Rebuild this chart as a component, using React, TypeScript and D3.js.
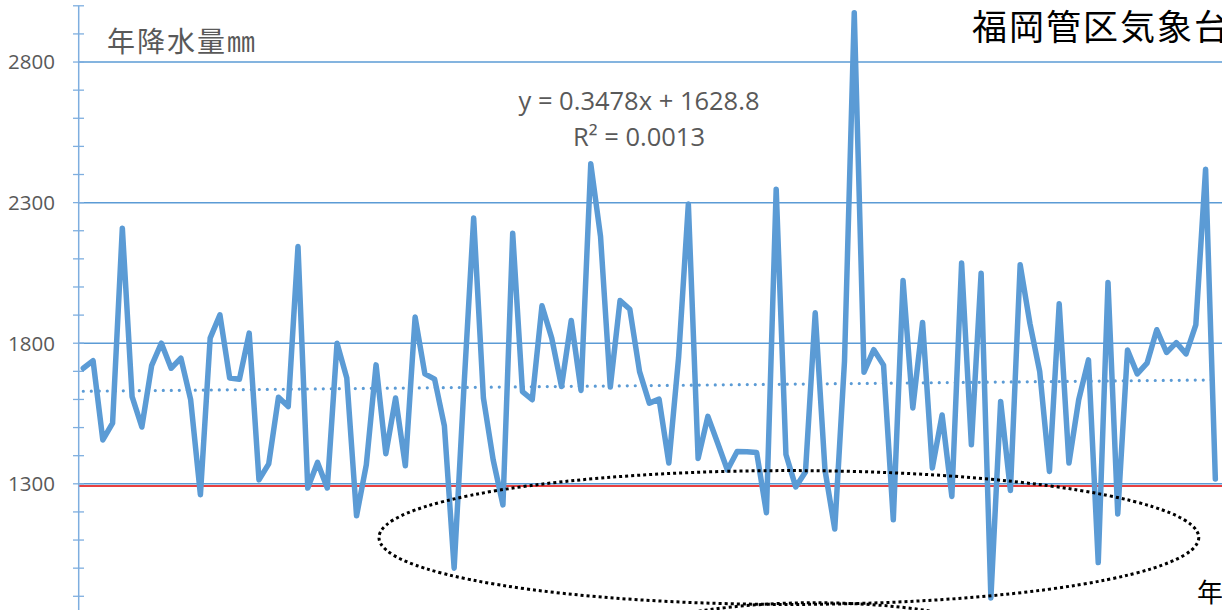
import React from 'react';
import * as d3 from 'd3';

// Annual precipitation at the Fukuoka district observatory (mm), one value per year
const firstYear = 1890;
const rainfall = [
  1711, 1738, 1456, 1516, 2209, 1610, 1502, 1720, 1800, 1711,
  1747, 1599, 1261, 1818, 1901, 1676, 1672, 1836, 1314, 1371,
  1608, 1575, 2144, 1285, 1376, 1285, 1800, 1676, 1186, 1368,
  1723, 1407, 1605, 1364, 1893, 1691, 1672, 1506, 1000, 1640,
  2245, 1605, 1385, 1225, 2191, 1628, 1599, 1933, 1818, 1646,
  1881, 1632, 2438, 2180, 1644, 1952, 1921, 1699, 1587, 1601,
  1374, 1749, 2295, 1390, 1540, 1445, 1349, 1415, 1414, 1411,
  1197, 2348, 1404, 1289, 1342, 1908, 1349, 1139, 1736, 2975,
  1697, 1777, 1722, 1172, 2023, 1570, 1874, 1356, 1545, 1255,
  2085, 1439, 2049, 894, 1593, 1276, 2079, 1870, 1700, 1344,
  1940, 1374, 1599, 1741, 1020, 2016, 1193, 1776, 1691, 1729,
  1848, 1767, 1802, 1762, 1865, 2419, 1317,
];
const years = rainfall.map((_, i) => firstYear + i);

// Axis labels and reference values
const labelTicks = [1300, 1800, 2300, 2800];
const minorTicks = d3.range(900, 3001, 100);
const referenceLevel = 1292;

// Linear trend (x = 1, 2, 3, ...)
const trendSlope = 0.3478;
const trendIntercept = 1628.8;
const trendR2 = 0.0013;

// Dry-period highlight ellipses (centre year, centre mm, half-width years, half-height mm)
const highlights = [
  { year: 1962.3, mm: 1109, rYears: 42, rMm: 238 },
  { year: 1965.0, mm: 657, rYears: 23.6, rMm: 220 },
];

const W = 1222;
const H = 610;
const BLUE = '#5B9BD5';
const GREY = '#595959';
const NUM_FONT = '"Open Sans", "Noto Sans", sans-serif';
const CJK_FONT = '"Noto Sans CJK JP", "Noto Sans", sans-serif';

export default function App() {
  const x = d3
    .scaleLinear()
    .domain([firstYear, firstYear + 117])
    .range([83.3, 83.3 + 117 * 9.759]);
  const y = d3.scaleLinear().domain([800, 3000]).range([624.4, 5.8]);

  const axisX = 78.7;
  const line = d3
    .line<number>()
    .x((_, i) => x(years[i]))
    .y((d) => y(d));

  const trendPath =
    d3.line()(
      years.map((yr, i) => [x(yr), y(trendSlope * (i + 1) + trendIntercept)] as [number, number])
    ) ?? '';

  return (
    <svg
      width={W}
      height={H}
      style={{ position: 'fixed', left: 0, top: 0, background: '#fff' }}
    >
      <rect width={W} height={H} fill="#fff" />

      {/* horizontal gridlines */}
      {labelTicks.map((t) => (
        <line
          key={`g${t}`}
          x1={axisX}
          x2={W}
          y1={y(t)}
          y2={y(t)}
          stroke={BLUE}
          strokeWidth={1.5}
        />
      ))}

      {/* reference level */}
      <line
        x1={axisX}
        x2={W}
        y1={y(referenceLevel)}
        y2={y(referenceLevel)}
        stroke="#E00000"
        strokeWidth={1.6}
      />

      {/* value axis */}
      <line x1={axisX} x2={axisX} y1={y(3000)} y2={H} stroke="#7EAEDF" strokeWidth={1.5} />
      {minorTicks.map((t) => (
        <line
          key={`t${t}`}
          x1={73}
          x2={84}
          y1={y(t)}
          y2={y(t)}
          stroke="#7EAEDF"
          strokeWidth={1.3}
        />
      ))}
      {labelTicks.map((t) => (
        <text
          key={`l${t}`}
          x={55}
          y={y(t)}
          dy="0.36em"
          textAnchor="end"
          fontFamily={NUM_FONT}
          fontSize={20.5}
          fill={GREY}
        >
          {t}
        </text>
      ))}

      {/* trend line */}
      <path
        d={trendPath}
        fill="none"
        stroke={BLUE}
        strokeWidth={3.2}
        strokeLinecap="round"
        strokeDasharray="0 8"
      />

      {/* precipitation series */}
      <path
        d={line(rainfall) ?? ''}
        fill="none"
        stroke={BLUE}
        strokeWidth={5.5}
        strokeLinejoin="round"
        strokeLinecap="round"
      />

      {/* highlight ellipses */}
      {highlights.map((h, i) => (
        <ellipse
          key={`e${i}`}
          cx={x(h.year)}
          cy={y(h.mm)}
          rx={x(h.year + h.rYears) - x(h.year)}
          ry={y(h.mm - h.rMm) - y(h.mm)}
          fill="none"
          stroke="#000"
          strokeWidth={3}
          strokeDasharray="3 3"
        />
      ))}

      {/* labels */}
      <text x={107} y={52} fontFamily={CJK_FONT} fontSize={28} letterSpacing={2} fill={GREY}>
        年降水量㎜
      </text>
      <text x={972} y={40} fontFamily={CJK_FONT} fontSize={35} fill="#000" letterSpacing={2}>
        福岡管区気象台
      </text>
      <text x={1197} y={602} fontFamily={CJK_FONT} fontSize={26} fill="#000">
        年
      </text>
      <text
        x={639}
        y={110}
        textAnchor="middle"
        fontFamily={NUM_FONT}
        fontSize={25.5}
        fill={GREY}
      >
        {`y = ${trendSlope}x + ${trendIntercept}`}
      </text>
      <text
        x={639}
        y={146}
        textAnchor="middle"
        fontFamily={NUM_FONT}
        fontSize={25.5}
        fill={GREY}
      >
        {`R² = ${trendR2.toFixed(4)}`}
      </text>
    </svg>
  );
}
